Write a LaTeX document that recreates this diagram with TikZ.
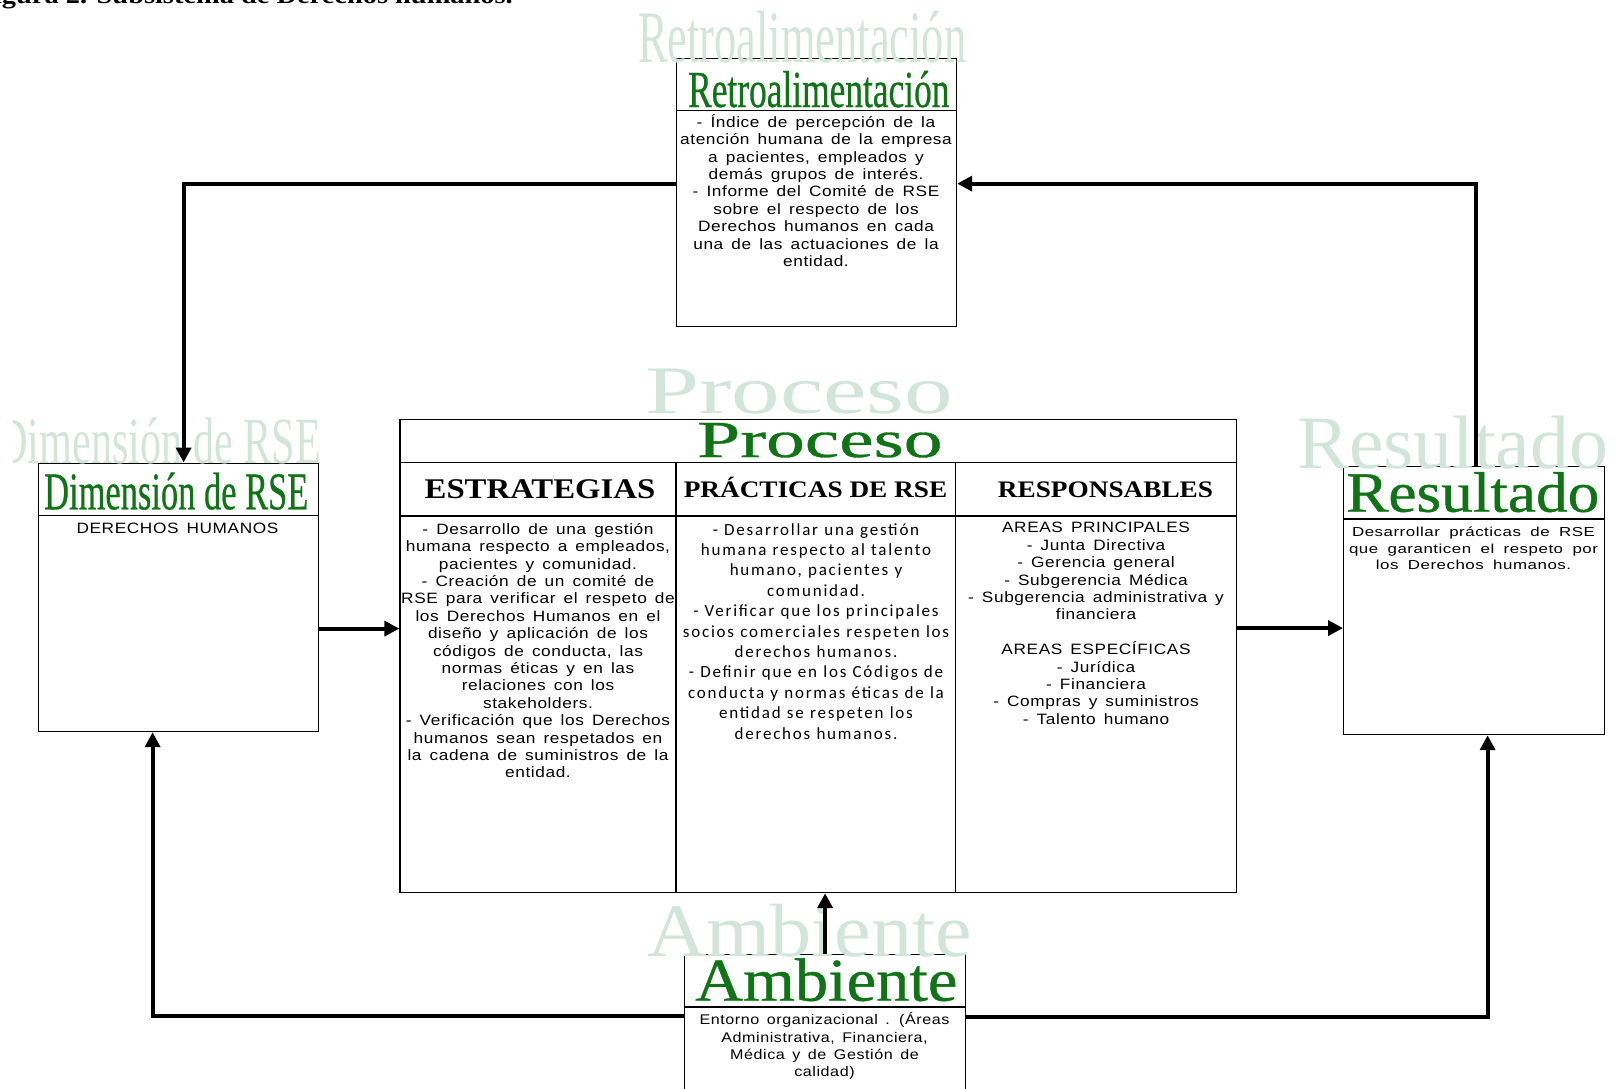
\documentclass[tikz,border=0pt]{standalone}
\usepackage{fontspec}
\usepackage{graphicx}
\setmainfont{Liberation Serif}
\newfontfamily\arialx[FakeStretch=1.15,LetterSpace=4,WordSpace=1.5]{Liberation Sans}
\newfontfamily\arialw[FakeStretch=1.3,LetterSpace=4,WordSpace=1.8]{Liberation Sans}
\newfontfamily\calibx[LetterSpace=10.5,WordSpace=1.1]{Carlito}
\newfontfamily\timesx[FakeStretch=1.15]{Liberation Serif}
\newfontfamily\titulox[FakeBold=0.6]{Liberation Serif}
\usetikzlibrary{arrows.meta}
\definecolor{verde}{RGB}{16,116,22}
\definecolor{fantasma}{RGB}{210,229,219}
\newcommand{\txt}{\arialx\fontsize{15}{17.4}\selectfont}

\begin{document}
\begin{tikzpicture}[x=1pt,y=-1pt,
  caja/.style={draw,line width=1.2pt,fill=white,anchor=north west,inner sep=0pt},
  raya/.style={line width=1.2pt},
  flecha/.style={line width=4pt,-{Triangle[length=15pt,width=15pt]}},
  cuerpo/.style={anchor=north,align=center,inner sep=0pt,font=\txt},
  cabeza/.style={anchor=base,inner sep=0pt,font=\timesx\bfseries\fontsize{23.7}{25}\selectfont},
  titulo/.style={anchor=base west,inner sep=0pt,text=verde},
  sombra/.style={anchor=base west,inner sep=0pt,text=fantasma}]
   \useasboundingbox (0,0) rectangle (1619,1088);
   \node[anchor=base east,inner sep=0pt,font=\timesx\bfseries\fontsize{24.7}{26}\selectfont] (figura) at (513,3)
     {Figura 2. Subsistema de Derechos humanos.};

   % cajas
   \node[caja,minimum width=280pt,minimum height=268.5pt] (retro) at (676,57.5) {};
   \node[caja,minimum width=280pt,minimum height=268.5pt] (dimension) at (37.5,462.5) {};
   \node[caja,minimum width=836.5pt,minimum height=473pt] (proceso) at (399.3,419) {};
   \node[caja,minimum width=261pt,minimum height=268pt] (resultado) at (1343,466) {};
   \node[caja,minimum width=281pt,minimum height=140pt] (ambiente) at (684,954) {};
   \foreach \n in {retro,dimension,resultado,ambiente}
     \draw[raya] ([yshift=-53pt]\n.north west) -- ([yshift=-53pt]\n.north east);
   \draw[raya] ([yshift=-43.7pt]proceso.north west) -- ([yshift=-43.7pt]proceso.north east);
   \draw[raya] ([yshift=-97pt]proceso.north west) -- ([yshift=-97pt]proceso.north east);
   \draw[raya] ([xshift=276.7pt,yshift=-43.7pt]proceso.north west) -- ([xshift=276.7pt]proceso.south west);
   \draw[raya] ([xshift=556.5pt,yshift=-43.7pt]proceso.north west) -- ([xshift=556.5pt]proceso.south west);

   % letras claras detras
   \node[sombra,font=\fontsize{74}{74}\selectfont] (sRetro) at (638,62) {\scalebox{0.60}[1]{Retroalimentación}};
   \begin{scope}
     \clip (13,380) rectangle (400,480);
     \node[sombra,font=\fontsize{66}{66}\selectfont] (sDim) at (-3,463) {\scalebox{0.64}[1]{Dimensión de RSE}};
   \end{scope}
   \node[sombra,font=\fontsize{68}{68}\selectfont] (sProc) at (645,413) {\scalebox{1.43}[1]{Proceso}};
   \node[sombra,font=\fontsize{75.5}{75.5}\selectfont] (sRes) at (1297,468) {\scalebox{1.03}[1]{Resultado}};
   \node[sombra,font=\fontsize{75.5}{75.5}\selectfont] (sAmb) at (647,956.7) {\scalebox{1.09}[1]{Ambiente}};

   % flechas
   \draw[flecha] ([yshift=8.75pt]retro.west) -| ([xshift=5.5pt]dimension.north);
   \draw[flecha] ([xshift=1.5pt]resultado.north) |- ([yshift=8.75pt]retro.east);
   \draw[flecha] ([yshift=-31.25pt]dimension.east) coordinate (d1) -- (d1 -| proceso.west);
   \draw[flecha] ([yshift=28pt]proceso.east) coordinate (p1) -- (p1 -| resultado.west);
   \draw[flecha] (ambiente.north) -- (ambiente.north |- proceso.south);
   \draw[flecha] ([yshift=9pt]ambiente.west) -| ([xshift=-25.5pt]dimension.south);
   \draw[flecha] ([yshift=7.5pt]ambiente.east) -| ([xshift=13.5pt]resultado.south);

   % titulos
   \node[titulo,font=\titulox\fontsize{52}{52}\selectfont] (tRetro) at (688,107) {\scalebox{0.68}[1]{Retroalimentación}};
   \node[titulo,font=\titulox\fontsize{53}{53}\selectfont] (tDim) at (44,509.3) {\scalebox{0.65}[1]{Dimensión de RSE}};
   \node[titulo,font=\titulox\fontsize{52}{52}\selectfont] (tProc) at (697,457) {\scalebox{1.49}[1]{Proceso}};
   \node[titulo,font=\titulox\fontsize{57}{57}\selectfont] (tRes) at (1346,511.7) {\scalebox{1.11}[1]{Resultado}};
   \node[titulo,font=\titulox\fontsize{61}{61}\selectfont] (tAmb) at (695,1000.7) {\scalebox{1.09}[1]{Ambiente}};

   \node[cabeza,font=\timesx\bfseries\fontsize{28.5}{30}\selectfont] (hEst) at (540,498.3) {ESTRATEGIAS};
   \node[cabeza] (hPra) at (815.5,497.3) {PRÁCTICAS DE RSE};
   \node[cabeza] (hRes) at (1105.5,497.3) {RESPONSABLES};

   % textos
   \node[cuerpo] (bRetro) at (816,114) {- Índice de percepción de la\\atención humana de la empresa\\a pacientes, empleados y\\demás grupos de interés.\\- Informe del Comité de RSE\\sobre el respecto de los\\Derechos humanos en cada\\una de las actuaciones de la\\entidad.};
   \node[cuerpo] (bDim) at (177.5,523.3) {DERECHOS HUMANOS};
   \node[cuerpo] (bEst) at (538,523) {- Desarrollo de una gestión\\humana respecto a empleados,\\pacientes y comunidad.\\- Creación de un comité de\\RSE para verificar el respeto de\\los Derechos Humanos en el\\diseño y aplicación de los\\códigos de conducta, las\\normas éticas y en las\\relaciones con los\\stakeholders.\\- Verificación que los Derechos\\humanos sean respetados en\\la cadena de suministros de la\\entidad.};
   \node[cuerpo,font=\calibx\fontsize{17}{20.4}\selectfont] (bPra) at (816,523) {- Desarrollar una gestión\\humana respecto al talento\\humano, pacientes y\\comunidad.\\- Verificar que los principales\\socios comerciales respeten los\\derechos humanos.\\- Definir que en los Códigos de\\conducta y normas éticas de la\\entidad se respeten los\\derechos humanos.};
   \node[cuerpo] (bRes) at (1096,522.3) {AREAS PRINCIPALES\\- Junta Directiva\\- Gerencia general\\- Subgerencia Médica\\- Subgerencia administrativa y\\financiera\\[17.4pt]AREAS ESPECÍFICAS\\- Jurídica\\- Financiera\\- Compras y suministros\\- Talento humano};
   \node[cuerpo,font=\arialw\fontsize{13}{16.3}\selectfont] (bResul) at (1473.5,527) {Desarrollar prácticas de RSE\\que garanticen el respeto por\\los Derechos humanos.};
   \node[cuerpo,font=\arialx\fontsize{14}{17.4}\selectfont] (bAmb) at (824.5,1012.4) {Entorno organizacional . (Áreas\\Administrativa, Financiera,\\Médica y de Gestión de\\calidad)};
\end{tikzpicture}
\end{document}
